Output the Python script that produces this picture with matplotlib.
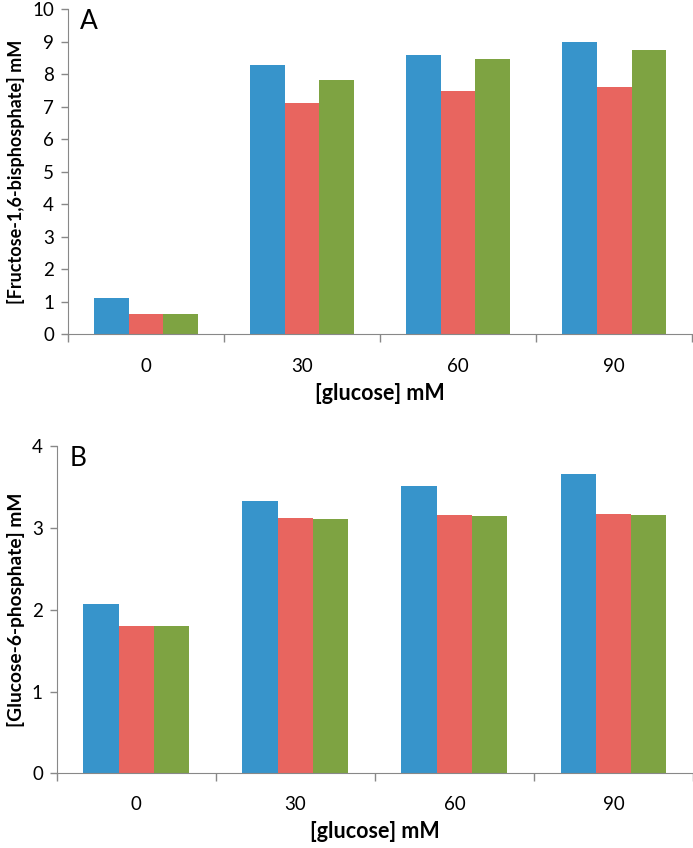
import numpy as np
import matplotlib.pyplot as plt
from matplotlib.ticker import FixedLocator, NullFormatter

plt.rcParams['font.family'] = ['Lato', 'DejaVu Sans']

# glucose concentrations (categories)
glucose = ['0', '30', '60', '90']

# panel A: fructose-1,6-bisphosphate (mM)
fbp_blue = [1.10, 8.29, 8.59, 9.00]
fbp_red = [0.62, 7.12, 7.49, 7.62]
fbp_green = [0.62, 7.83, 8.48, 8.75]

# panel B: glucose-6-phosphate (mM)
g6p_blue = [2.07, 3.33, 3.51, 3.66]
g6p_red = [1.80, 3.12, 3.16, 3.17]
g6p_green = [1.80, 3.11, 3.14, 3.16]

colors = ['#3794cb', '#e8655f', '#7ea342']
axis_gray = '#888888'

fig = plt.figure(figsize=(6.93, 8.48), dpi=100)
axA = fig.add_axes([0.098, 0.606, 0.901, 0.383])
axB = fig.add_axes([0.082, 0.088, 0.918, 0.386])


def draw(ax, series, ymax, yticks, ylabel, ylsize, letter, tpad, xlpad):
    x = np.arange(len(glucose))
    w = 0.222
    for i, (vals, c) in enumerate(zip(series, colors)):
        ax.bar(x + (i - 1) * w, vals, width=w, color=c, linewidth=0)
    ax.set_xlim(-0.5, len(glucose) - 0.5)
    ax.set_ylim(0, ymax)
    ax.set_yticks(yticks)
    ax.set_xticks(x)
    ax.set_xticklabels(glucose)
    ax.xaxis.set_minor_locator(FixedLocator(np.arange(-0.5, len(glucose), 1.0)))
    ax.xaxis.set_minor_formatter(NullFormatter())
    ax.tick_params(axis='x', which='major', length=0, pad=tpad, labelsize=13.5)
    ax.tick_params(axis='x', which='minor', length=6, color=axis_gray, width=1)
    ax.tick_params(axis='y', length=5, color=axis_gray, width=1, labelsize=13.5,
                   pad=5)
    for s in ['top', 'right']:
        ax.spines[s].set_visible(False)
    for s in ['left', 'bottom']:
        ax.spines[s].set_color(axis_gray)
    ax.set_xlabel('[glucose] mM', fontsize=15.5, fontweight='bold', labelpad=xlpad)
    ax.set_ylabel(ylabel, fontsize=ylsize, fontweight='bold', labelpad=5)
    ax.text(0.02, 1.0, letter, transform=ax.transAxes, fontsize=19,
            va='top', ha='left')


draw(axA, [fbp_blue, fbp_red, fbp_green], 10, range(0, 11),
     '[Fructose-1,6-bisphosphate] mM', 13.0, 'A', 17, 6)
draw(axB, [g6p_blue, g6p_red, g6p_green], 4, range(0, 5),
     '[Glucose-6-phosphate] mM', 13.8, 'B', 16, 6)

fig.savefig('out.png', dpi=100)
